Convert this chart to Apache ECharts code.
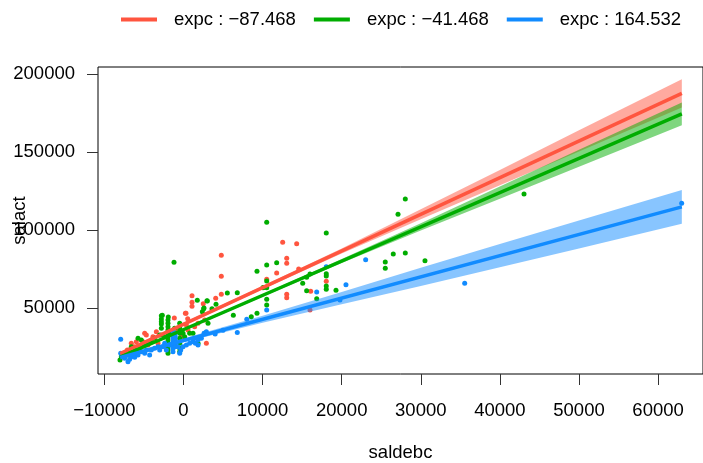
<!DOCTYPE html>
<html>
<head>
<meta charset="utf-8">
<script src="https://cdn.jsdelivr.net/npm/echarts@6/dist/echarts.min.js"></script>
<style>html,body{margin:0;padding:0;background:#fff}#c{width:703px;height:463px}</style>
</head>
<body>
<div id="c"></div>
<script>
// ---- data ----
const groupNames = ['expc : \u221287.468', 'expc : \u221241.468', 'expc : 164.532'];
const xTicks = [-10000, 0, 10000, 20000, 30000, 40000, 50000, 60000];
const yTicks = [50000, 100000, 150000, 200000];

// fitted lines [saldebc, salact]
const lineRed = [[-8000, 21000], [63000, 187800]];
const lineGreen = [[-8000, 18800], [63000, 174700]];
const lineBlue = [[-8000, 18500], [63000, 115000]];

// confidence bands
const bandX = [-8000, 0, 10000, 20000, 30000, 40000, 50000, 63000];
const redLower = [19800, 38900, 62300, 85200, 107100, 128900, 150500, 178800];
const redUpper = [22200, 40700, 64300, 88400, 113500, 138700, 164100, 196800];
const greenLower = [17800, 35600, 57500, 79000, 99900, 120300, 140700, 167400];
const greenUpper = [19800, 37100, 59100, 81600, 104600, 128100, 151600, 182000];
const blueLower = [17000, 28200, 40700, 52600, 64300, 76300, 88300, 104200];
const blueUpper = [20000, 30600, 45300, 60500, 76000, 91200, 106300, 125800];

// observed points
const pointsRed = [
  [4780, 84000], [4780, 70510], [4780, 58970], [1075, 58080], [1075, 53850], [1075, 51280],
  [2500, 52950], [4070, 56410], [316, 46800], [530, 43330], [-1160, 43800], [10520, 68590],
  [12540, 92300], [14310, 91410], [13050, 82050], [13050, 78850], [11780, 72630], [14560, 75190],
  [16080, 60900], [13050, 58970], [13050, 56800], [18050, 67300], [15990, 48910],
  [-6600, 27550], [-6260, 25410], [-5960, 28610], [-5750, 23270], [-5540, 24340], [-5330, 25410],
  [-5120, 28610], [-4910, 33960], [-4700, 32890], [-4490, 26480], [-4070, 29680], [-3860, 31820],
  [-3430, 35030], [-3220, 27550], [-2800, 32890], [-2170, 25410], [-690, 36090], [-270, 31820],
  [240, 46770], [360, 39300], [570, 36090], [1410, 38230], [1840, 40360], [2680, 42500],
  [2890, 27550], [-7100, 23270], [-7650, 19000]
];
const pointsGreen = [
  [-1200, 79490], [1745, 55130], [2970, 54870], [2590, 50190], [5540, 59800], [6800, 60000],
  [3010, 54680], [2550, 49740], [3600, 49740], [4110, 52560], [-2680, 45500], [-1920, 44400],
  [9290, 73700], [10520, 77760], [10520, 67500], [10520, 63200], [10520, 55770], [10520, 52100],
  [10050, 63200], [6300, 45510], [8570, 44620], [9290, 46800], [10520, 105100], [18050, 98270],
  [28040, 120060], [27120, 110250], [28040, 85450], [26520, 84800], [25510, 79680], [25510, 75740],
  [11780, 79230], [10090, 63320], [15070, 66030], [15990, 71990], [15570, 69870], [15570, 61280],
  [16840, 56150], [18050, 72180], [18050, 70700], [18050, 64300], [18050, 62180], [19280, 61540],
  [43050, 123270], [30530, 80510],
  [-8030, 16870], [-7860, 19000], [-7230, 20070], [-6810, 23270], [-6600, 25410], [-6170, 23270],
  [-5750, 30750], [-5330, 29680], [-4910, 26480], [-4490, 27550], [-4070, 28610], [-3640, 30750],
  [-3010, 32890], [-2800, 45280], [-2800, 43140], [-2800, 41430], [-2800, 39930], [-2800, 37160],
  [-2380, 31820], [-1960, 42500], [-1960, 40360], [-1960, 38230], [-1960, 36090], [-1960, 33960],
  [-1960, 31820], [-1960, 29680], [-1960, 27550], [-1960, 25410], [-1960, 23270], [-1960, 21140],
  [-1540, 33960], [-1120, 37160], [-480, 40360], [-480, 37160], [-480, 33960], [-480, 30750],
  [-480, 27550], [-480, 24340], [-480, 22200], [-60, 33960], [150, 31820], [780, 33960],
  [1200, 33960], [1840, 27550], [2380, 47840], [2680, 33960], [3100, 40360]
];
const pointsBlue = [
  [10520, 48910], [23030, 81150], [18050, 76670], [16840, 60450], [20540, 65130], [19780, 55320],
  [35550, 66030], [62980, 117300], [8000, 42950], [6800, 34500], [5000, 36000], [4000, 33500],
  [-7940, 30110], [-7940, 21140], [-7770, 19430], [-7440, 17940], [-7020, 15800], [-6810, 17300],
  [-6600, 19000], [-6170, 18570], [-5960, 21140], [-5750, 20070], [-5330, 22200], [-4910, 21140],
  [-4700, 23270], [-4280, 20070], [-4070, 23270], [-3640, 24340], [-3220, 25410], [-3010, 23270],
  [-2590, 25410], [-2380, 27550], [-2170, 23270], [-1750, 26480],
  [-1330, 35030], [-1330, 32890], [-1330, 30750], [-1330, 28610], [-1330, 26480], [-1330, 24340], [-1330, 22200],
  [-1040, 33960], [-1040, 31820], [-1040, 29680], [-1040, 27550], [-1040, 25410],
  [-690, 25410], [-480, 21140], [-350, 23270], [-60, 25410], [360, 26480], [780, 27550],
  [1200, 28610], [1410, 30750], [1500, 27550], [1840, 29680], [1840, 26480], [2260, 30750],
  [2600, 33960], [2890, 35030]
];

// ---- style ----
const colors = ['#FF553F', '#00AD00', '#118BFF'];
const FONT = 'Liberation Sans, Arial, Helvetica, sans-serif';

function bandSeries(lower, upper, color) {
  const data = bandX.map((x, i) => [x, lower[i], upper[i]]);
  return {
    type: 'custom',
    name: 'band',
    z: 3,
    silent: true,
    data: data,
    encode: { x: 0, y: [1, 2] },
    renderItem: function (params, api) {
      if (params.dataIndex !== 0) return null;
      const pts = [];
      for (let i = 0; i < data.length; i++) pts.push(api.coord([data[i][0], data[i][2]]));
      for (let i = data.length - 1; i >= 0; i--) pts.push(api.coord([data[i][0], data[i][1]]));
      return { type: 'polygon', shape: { points: pts }, style: { fill: color, opacity: 0.5 } };
    }
  };
}
function scatterSeries(pts, color) {
  return { type: 'scatter', name: 'pts', z: 2, data: pts, symbolSize: 5,
    itemStyle: { color: color, opacity: 1 }, silent: true };
}
function lineSeries(name, pts, color) {
  return { type: 'line', name: name, z: 4, data: pts, showSymbol: false, symbol: 'none',
    lineStyle: { color: color, width: 3.5 }, itemStyle: { color: color }, silent: true };
}

const chart = echarts.init(document.getElementById('c'), null, { renderer: 'canvas' });
chart.setOption({
  animation: false,
  backgroundColor: '#fff',
  textStyle: { fontFamily: FONT },
  grid: { left: 98, top: 67, right: 0, bottom: 89, show: true, borderColor: '#000', borderWidth: 1,
    backgroundColor: 'transparent', containLabel: false, outerBoundsMode: 'none' },
  legend: {
    data: groupNames,
    left: 121, top: 10, padding: 0,
    icon: 'rect', itemWidth: 36, itemHeight: 4, itemGap: 18,
    textStyle: { fontSize: 18.5, color: '#000', fontFamily: FONT, padding: [0, 0, 0, 12] }
  },
  xAxis: {
    type: 'value', min: -10809, max: 65678,
    name: 'saldebc', nameLocation: 'middle', nameGap: 69, nameMoveOverlap: false,
    nameTextStyle: { fontSize: 18.5, color: '#000', fontFamily: FONT },
    axisLine: { show: false, onZero: false },
    splitLine: { show: false },
    axisTick: { show: true, length: 11, customValues: xTicks, lineStyle: { color: '#333' } },
    axisLabel: { customValues: xTicks, margin: 27, fontSize: 18.5, color: '#000', fontFamily: FONT,
      formatter: v => String(v).replace('-', '\u2212') }
  },
  yAxis: {
    type: 'value', min: 7900, max: 204700,
    name: 'salact', nameLocation: 'middle', nameGap: 69, nameRotate: 90, nameMoveOverlap: false,
    nameTextStyle: { fontSize: 18.5, color: '#000', fontFamily: FONT },
    axisLine: { show: false, onZero: false },
    splitLine: { show: false },
    axisTick: { show: true, length: 11, customValues: yTicks, lineStyle: { color: '#333' } },
    axisLabel: { customValues: yTicks, margin: 23, fontSize: 18.5, color: '#000', fontFamily: FONT,
      formatter: v => String(v) }
  },
  series: [
    scatterSeries(pointsRed, colors[0]),
    scatterSeries(pointsGreen, colors[1]),
    scatterSeries(pointsBlue, colors[2]),
    bandSeries(redLower, redUpper, colors[0]),
    bandSeries(greenLower, greenUpper, colors[1]),
    bandSeries(blueLower, blueUpper, colors[2]),
    lineSeries(groupNames[0], lineRed, colors[0]),
    lineSeries(groupNames[1], lineGreen, colors[1]),
    lineSeries(groupNames[2], lineBlue, colors[2])
  ]
});
</script>
</body>
</html>
